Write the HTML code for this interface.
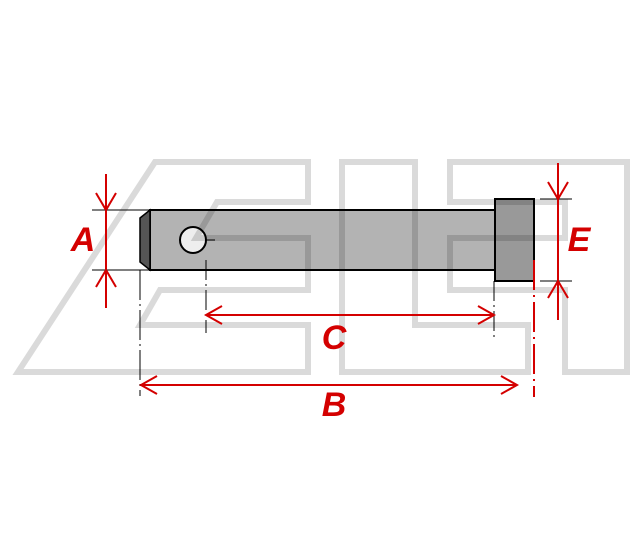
<!DOCTYPE html>
<html><head><style>html,body{margin:0;padding:0;background:#fff}svg{display:block}</style></head>
<body>
<svg width="639" height="538" viewBox="0 0 639 538" xmlns="http://www.w3.org/2000/svg">
<!-- pin -->
<rect x="150" y="210" width="345" height="60" fill="#b3b3b3" stroke="#000" stroke-width="2"/>
<polygon points="140,218 150,210 150,270 140,262" fill="#555" stroke="#000" stroke-width="1.5"/>
<circle cx="193" cy="240" r="13" fill="#eee" stroke="#000" stroke-width="2"/>
<rect x="495" y="199" width="39" height="82" fill="#999" stroke="#000" stroke-width="2"/>
<!-- watermark -->
<g fill="none" stroke="#dadada" stroke-width="6" style="mix-blend-mode:multiply" stroke-linejoin="miter">
<polygon points="18,372 155,162 308,162 308,202 217,202 196,238 308,238 308,290 160,290 140,325 308,325 308,372"/>
<polygon points="342,162 415,162 415,325 528,325 528,372 342,372"/>
<polygon points="450,162 627,162 627,372 565,372 565,290 450,290 450,238 565,238 565,202 450,202"/>
</g>
<!-- extension lines -->
<g stroke="#000" stroke-width="1" fill="none">
<line x1="92" y1="210" x2="150" y2="210"/>
<line x1="92" y1="270" x2="150" y2="270"/>
<line x1="140" y1="270" x2="140" y2="396" stroke-dasharray="30,4,2,4"/>
<line x1="206" y1="260" x2="206" y2="333" stroke-dasharray="20,4,2,4"/>
<line x1="205" y1="240" x2="215" y2="240"/>
<line x1="494" y1="281" x2="494" y2="337" stroke-dasharray="20,4,2,4"/>
<line x1="540" y1="199" x2="572" y2="199"/>
<line x1="540" y1="281" x2="572" y2="281"/>
</g>
<!-- red dims -->
<g stroke="#d40000" stroke-width="2" fill="none">
<line x1="534" y1="260" x2="534" y2="397" stroke-dasharray="30,5,2,5"/>
<line x1="106" y1="174" x2="106" y2="308"/>
<polyline points="96,193 106,210 116,193"/>
<polyline points="96,287 106,270 116,287"/>
<line x1="558" y1="163" x2="558" y2="320"/>
<polyline points="548,182 558,199 568,182"/>
<polyline points="548,298 558,281 568,298"/>
<line x1="206" y1="315" x2="494" y2="315"/>
<polyline points="222,306 206,315 222,324"/>
<polyline points="478,306 494,315 478,324"/>
<line x1="141" y1="385" x2="517" y2="385"/>
<polyline points="157,376 141,385 157,394"/>
<polyline points="501,376 517,385 501,394"/>
</g>
<g fill="#d40000" font-family="Liberation Sans, sans-serif" font-weight="bold" font-style="italic" font-size="34" text-anchor="middle">
<text x="83" y="251">A</text>
<text x="579" y="251">E</text>
<text x="334" y="349">C</text>
<text x="334" y="416">B</text>
</g>
</svg>
</body></html>
